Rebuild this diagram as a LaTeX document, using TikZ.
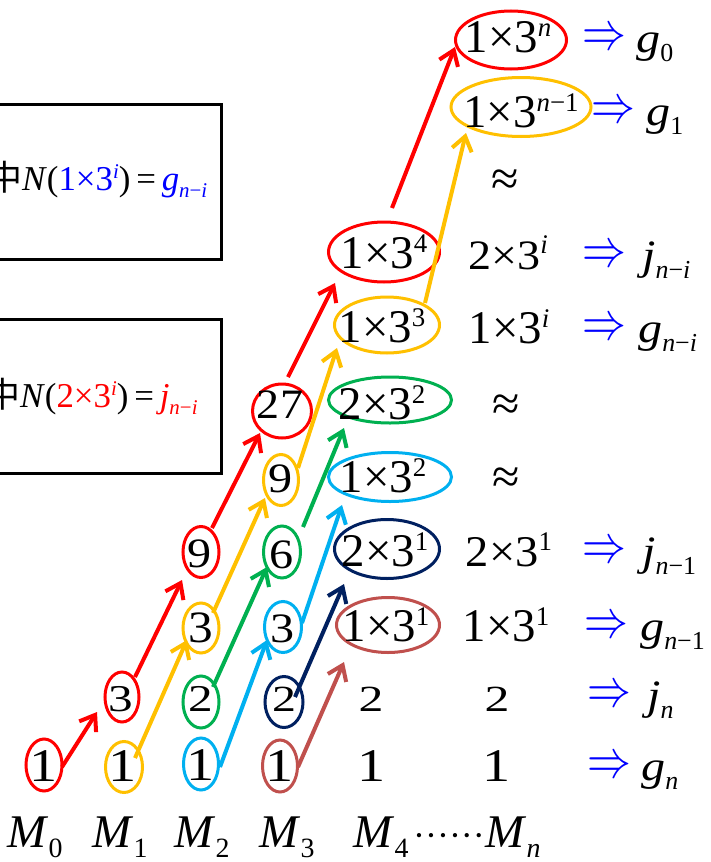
\documentclass[tikz,border=0pt]{standalone}
\usepackage{fontspec}
\setmainfont{Liberation Serif}
\newfontfamily\cjkf{Noto Sans CJK SC}
\usetikzlibrary{shapes.geometric,arrows.meta,calc}
\definecolor{cred}{RGB}{255,0,0}
\definecolor{cyel}{RGB}{255,192,0}
\definecolor{cgrn}{RGB}{0,176,80}
\definecolor{ccyn}{RGB}{0,176,240}
\definecolor{cnav}{RGB}{0,32,96}
\definecolor{cbrn}{RGB}{192,80,77}
\definecolor{cblu}{RGB}{0,0,255}
\newcommand\fs[1]{\fontsize{#1}{#1}\selectfont}
\newcommand\sps[1]{\raisebox{16bp}{\fs{27}#1}}
\newcommand\sbs[1]{\raisebox{-9bp}{\fs{26}#1}}
\newcommand\msb[1]{\raisebox{-10bp}{\fs{28}#1}}
\newcommand\xsc[2]{\scalebox{#1}[1]{#2}}
\newcommand\impsym{\scalebox{4.4}[5.4]{$\Rightarrow$}}
\tikzset{
  ell/.style 2 args={ellipse, draw, line width=3bp, inner sep=0pt, minimum width=#1bp, minimum height=#2bp},
  txt/.style={anchor=base, inner sep=0pt},
  lab/.style={anchor=base west, inner sep=0pt, font=\fs{42}},
  impl/.style={inner sep=0pt, text=cblu},
  arr/.style={line width=4bp, -{Straight Barb[length=14bp,width=20bp]}},
  boxst/.style={draw, line width=3bp, inner sep=0pt}
}
\begin{document}
\begin{tikzpicture}[x=1bp,y=-1bp]
\clip (0,0) rectangle (711,862);
\fill[white] (0,0) rectangle (711,862);

% left boxes
\node[boxst, minimum width=230bp, minimum height=155bp] (box1) at (106.5,182) {};
\node[boxst, minimum width=230bp, minimum height=154bp] (box2) at (106.5,396.5) {};
\node[anchor=base west, inner sep=0pt, font=\fs{35}] (bt1) at (-13,190)
  {{\cjkf 中}\textit{N}(\textcolor{cblu}{1×3\raisebox{12bp}{\fs{21}\textit{i}}})\,=\,\textcolor{cblu}{\textit{g}\raisebox{-7bp}{\fs{21}\textit{n}−\textit{i}}}};
\node[anchor=base west, inner sep=0pt, font=\fs{35}] (bt2) at (-15,407)
  {{\cjkf 中}\textit{N}(\textcolor{cred}{2×3\raisebox{12bp}{\fs{21}\textit{i}}})\,=\,\textcolor{cred}{\textit{j}\raisebox{-7bp}{\fs{21}\textit{n}−\textit{i}}}};

% ellipses
\node[ell={36}{52}, draw=cred] (r0) at (44,765) {};
\node[ell={34}{50}, draw=cred] (r1) at (122,697) {};
\node[ell={36}{51}, draw=cred] (r2) at (201,552) {};
\node[ell={59}{54}, draw=cred] (r3) at (282,411) {};
\node[ell={111}{60}, draw=cred] (r4) at (384,252) {};
\node[ell={111}{58}, draw=cred] (r5) at (511,40) {};
\node[ell={37}{51}, draw=cyel] (y0) at (124,767) {};
\node[ell={36}{50}, draw=cyel] (y1) at (201,628) {};
\node[ell={35}{51}, draw=cyel] (y2) at (281,480) {};
\node[ell={105}{56}, draw=cyel] (y3) at (387,325) {};
\node[ell={140}{59}, draw=cyel] (y4) at (521,107) {};
\node[ell={36}{52}, draw=cgrn] (g0) at (201,702) {};
\node[ell={37}{52}, draw=cgrn] (g1) at (282,552) {};
\node[ell={123}{46}, draw=cgrn] (g2) at (390,400) {};
\node[ell={35}{52}, draw=ccyn] (c0) at (201,764) {};
\node[ell={37}{51}, draw=ccyn] (c1) at (283,627) {};
\node[ell={123}{49}, draw=ccyn] (c2) at (390,477) {};
\node[ell={38}{51}, draw=cnav] (n0) at (284,702) {};
\node[ell={105}{59}, draw=cnav] (n1) at (387,549) {};
\node[ell={35}{52}, draw=cbrn] (b0) at (280,766) {};
\node[ell={103}{55}, draw=cbrn] (b1) at (388,625) {};

% texts in ellipses
\node[txt, font=\fs{47}] (tr0) at (44,781) {\xsc{1.2}{1}};
\node[txt, font=\fs{38}] (tr1) at (121,711) {\xsc{1.3}{3}};
\node[txt, font=\fs{42}] (tr2) at (200,567) {\xsc{1.15}{9}};
\node[txt, font=\fs{42}] (tr3) at (280,418) {\xsc{1.1}{27}};
\node[txt, font=\fs{47}] (tr4) at (384,268) {1×3\sps{4}};
\node[txt, font=\fs{47}] (tr5) at (508,52) {1×3\sps{\textit{n}}};
\node[txt, font=\fs{47}] (ty0) at (123,781) {\xsc{1.2}{1}};
\node[txt, font=\fs{45}] (ty1) at (201,642) {\xsc{1.1}{3}};
\node[txt, font=\fs{42}] (ty2) at (281,492) {\xsc{1.15}{9}};
\node[txt, font=\fs{47}] (ty3) at (382,342) {1×3\sps{3}};
\node[txt, font=\fs{47}] (ty4) at (521,127) {1×3\sps{\textit{n}−1}};
\node[txt, font=\fs{38}] (tg0) at (201,711) {\xsc{1.3}{2}};
\node[txt, font=\fs{42}] (tg1) at (282,568) {\xsc{1.15}{6}};
\node[txt, font=\fs{47}] (tg2) at (382,419) {2×3\sps{2}};
\node[txt, font=\fs{47}] (tc0) at (201,780) {\xsc{1.2}{1}};
\node[txt, font=\fs{42}] (tc1) at (283,642) {\xsc{1.15}{3}};
\node[txt, font=\fs{47}] (tc2) at (383,492) {1×3\sps{2}};
\node[txt, font=\fs{37}] (tn0) at (284,711) {\xsc{1.3}{2}};
\node[txt, font=\fs{47}] (tn1) at (385,566) {2×3\sps{1}};
\node[txt, font=\fs{47}] (tb0) at (280,781) {\xsc{1.2}{1}};
\node[txt, font=\fs{47}] (tb1) at (386,641) {1×3\sps{1}};

% plain column texts
\node[txt, font=\fs{42}] (p1) at (508,269) {\xsc{1.1}{2×3}\sps{\textit{i}}};
\node[txt, font=\fs{47}] (p2) at (509,343) {1×3\sps{\textit{i}}};
\node[txt, font=\fs{44}] (p3) at (509,566) {\xsc{1.06}{2×3}\sps{1}};
\node[txt, font=\fs{47}] (p4) at (506,641) {1×3\sps{1}};
\node[txt, font=\fs{37}] (p5) at (371,711) {\xsc{1.35}{2}};
\node[txt, font=\fs{37}] (p6) at (497,711) {\xsc{1.35}{2}};
\node[txt, font=\fs{47}] (p7) at (372,781) {\xsc{1.2}{1}};
\node[txt, font=\fs{47}] (p8) at (497,781) {\xsc{1.2}{1}};
\node[inner sep=0pt, font=\fs{50}] (ap1) at (505,183) {≈};
\node[inner sep=0pt, font=\fs{50}] (ap2) at (506,408) {≈};
\node[inner sep=0pt, font=\fs{50}] (ap3) at (506,481) {≈};

% implications
\node[impl] (i0) at (604,40) {\impsym};
\node[impl] (i1) at (613,113) {\impsym};
\node[impl] (i2) at (604,257) {\impsym};
\node[impl] (i3) at (604,330) {\impsym};
\node[impl] (i4) at (604,553) {\impsym};
\node[impl] (i5) at (606,628) {\impsym};
\node[impl] (i6) at (609,697) {\impsym};
\node[impl] (i7) at (609,768) {\impsym};
\node[lab] (l0) at (636,52) {\xsc{1.15}{\textit{g}}\sbs{0}};
\node[lab] (l1) at (646,125) {\xsc{1.15}{\textit{g}}\sbs{1}};
\node[lab] (l2) at (642,269) {\xsc{1.15}{\textit{j}}\sbs{\textit{n}−\textit{i}}};
\node[lab] (l3) at (638,342) {\xsc{1.15}{\textit{g}}\sbs{\textit{n}−\textit{i}}};
\node[lab] (l4) at (642,565) {\xsc{1.15}{\textit{j}}\sbs{\textit{n}−1}};
\node[lab] (l5) at (640,640) {\xsc{1.15}{\textit{g}}\sbs{\textit{n}−1}};
\node[lab] (l6) at (647,709) {\xsc{1.15}{\textit{j}}\sbs{\textit{n}}};
\node[lab] (l7) at (641,780) {\xsc{1.15}{\textit{g}}\sbs{\textit{n}}};

% bottom labels
\node[txt, font=\fs{47}] (m0) at (35,847) {\textit{M}\msb{0}};
\node[txt, font=\fs{47}] (m1) at (120,847) {\textit{M}\msb{1}};
\node[txt, font=\fs{47}] (m2) at (202,847) {\textit{M}\msb{2}};
\node[txt, font=\fs{47}] (m3) at (287,847) {\textit{M}\msb{3}};
\node[txt, font=\fs{47}] (m4) at (381,847) {\textit{M}\msb{4}};
\node[txt, font=\fs{36}] (dd) at (449,847) {······};
\node[txt, font=\fs{47}] (mn) at (513,847) {\textit{M}\msb{\textit{n}}};

% arrows
\draw[arr, cred] ($(r0)+(18,2)$) -- ($(r1)+(-25,15)$);
\draw[arr, cred] ($(r1)+(13,-20)$) -- ($(r2)+(-19,28)$);
\draw[arr, cred] ($(r2)+(11,-24)$) -- ($(r3)+(-22,22)$);
\draw[arr, cred] ($(r3)+(6,-34)$) -- ($(r4)+(-49,31)$);
\draw[arr, cred] ($(r4)+(8,-44)$) -- ($(r5)+(-56,7)$);
\draw[arr, cyel] ($(y0)+(11,-9)$) -- ($(y1)+(-14,12)$);
\draw[arr, cyel] ($(y1)+(12,-15)$) -- ($(y2)+(-16,18)$);
\draw[arr, cyel] ($(y2)+(17,-12)$) -- ($(y3)+(-50,23)$);
\draw[arr, cyel] ($(y3)+(38,-22)$) -- ($(y4)+(-55,26)$);
\draw[arr, cgrn] ($(g0)+(12,-15)$) -- ($(g1)+(-15,15)$);
\draw[arr, cgrn] ($(g1)+(21,-25)$) -- ($(g2)+(-46,28)$);
\draw[arr, ccyn] ($(c0)+(19,3)$) -- ($(c1)+(-16,13)$);
\draw[arr, ccyn] ($(c1)+(19,-4)$) -- ($(c2)+(-48,28)$);
\draw[arr, cnav] ($(n0)+(11,-5)$) -- ($(n1)+(-43,35)$);
\draw[arr, cbrn] ($(b0)+(18,1)$) -- ($(b1)+(-44,37)$);
\end{tikzpicture}
\end{document}
